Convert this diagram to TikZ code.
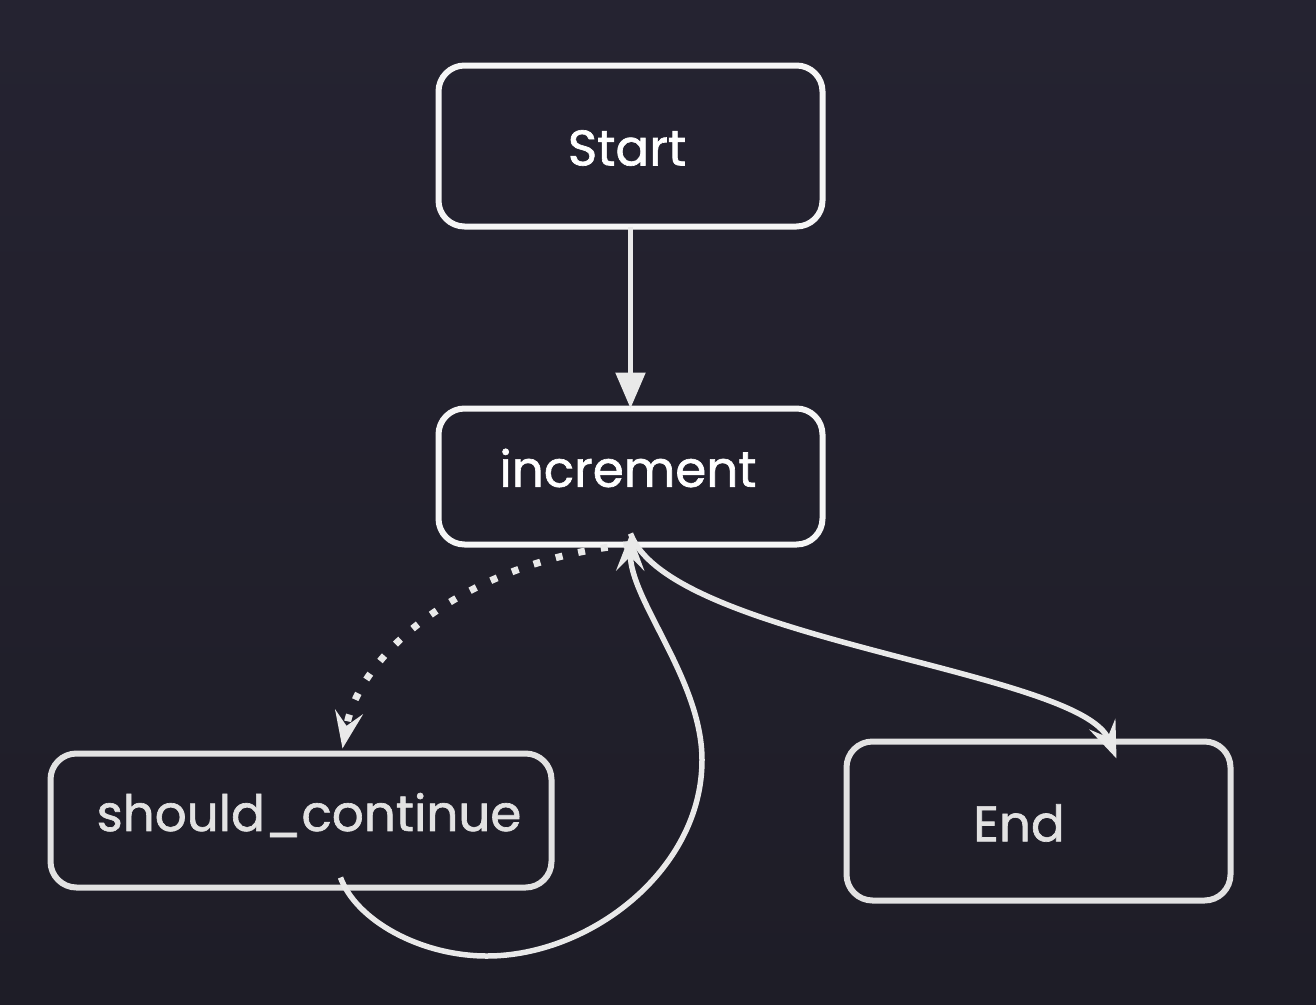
\documentclass[tikz,border=0pt]{standalone}
\usepackage{fontspec}
\setmainfont{Poppins}
\newfontfamily\labelfont{Poppins}[FakeBold=1.3]
\usetikzlibrary{arrows.meta,calc}

\definecolor{bgtop}{HTML}{252331}
\definecolor{bgbot}{HTML}{1E1D27}
\definecolor{boxline}{HTML}{F6F6F6}
\definecolor{boxlinedim}{HTML}{E2E2E2}
\definecolor{edgecol}{HTML}{E9E9E9}

\tikzset{
  stepbox/.style={draw=boxline, line width=6pt, rounded corners=26pt,
    outer sep=0pt, inner sep=0pt},
  dimbox/.style={stepbox, draw=boxlinedim},
  lbl/.style={text=white, inner sep=0pt,
    font=\labelfont\fontsize{50}{60}\selectfont},
  dimlbl/.style={lbl, text=boxlinedim},
  flow/.style={draw=edgecol, line width=5.5pt},
  solidtip/.style={-{Triangle[length=36pt,width=29pt]}},
  curvetip/.style={-{Stealth[length=37pt,width=28pt,inset=14pt]}},
  dotflow/.style={flow, line width=7pt, dash pattern=on 7pt off 16pt}
}

\begin{document}
\begin{tikzpicture}[x=1pt,y=-1pt]
  % backdrop
  \fill[top color=bgtop, bottom color=bgbot] (0,0) rectangle (1316,1004);

  % boxes
  \node[stepbox, minimum width=384pt, minimum height=161pt] (start) at (630.5,146) {};
  \node[stepbox, minimum width=384pt, minimum height=136pt] (inc) at (630.5,476.5) {};
  \node[dimbox, minimum width=501pt, minimum height=134pt] (sc) at (301,820.5) {};
  \node[dimbox, minimum width=384pt, minimum height=159pt] (fin) at (1038.5,821) {};

  % captions
  \node[lbl] (starttxt) at (627,148) {Start};
  \node[lbl] (inctxt) at (628,468) {increment};
  \node[dimlbl] (sctxt) at (309,815) {should\_continue};
  \node[dimlbl] (fintxt) at (1019,823) {End};

  % anchor points on the box borders
  \coordinate (incfoot) at ([yshift=11pt]inc.south);
  \coordinate (scfoot) at ([xshift=290pt,yshift=10pt]sc.south west);
  \coordinate (schead) at ([xshift=292pt,yshift=5pt]sc.north west);
  \coordinate (finhead) at ([xshift=270pt,yshift=-17pt]fin.north west);

  % Start -> increment
  \draw[flow, solidtip] (start.south) -- (inc.north);

  % increment -> should_continue (conditional)
  \draw[dotflow, curvetip] (inc.south) .. controls (470,560) and (360,650) .. (schead);

  % should_continue -> increment (loop back)
  \draw[flow, curvetip] (scfoot) .. controls (356,920) and (420,956) .. (487,956)
    .. controls (590,956) and (702,870) .. (702,760)
    .. controls (702,680) and (630,600) .. (incfoot);

  % increment -> End
  \draw[flow, curvetip] (incfoot) .. controls (670,640) and (1080,670) .. (finhead);
\end{tikzpicture}
\end{document}
